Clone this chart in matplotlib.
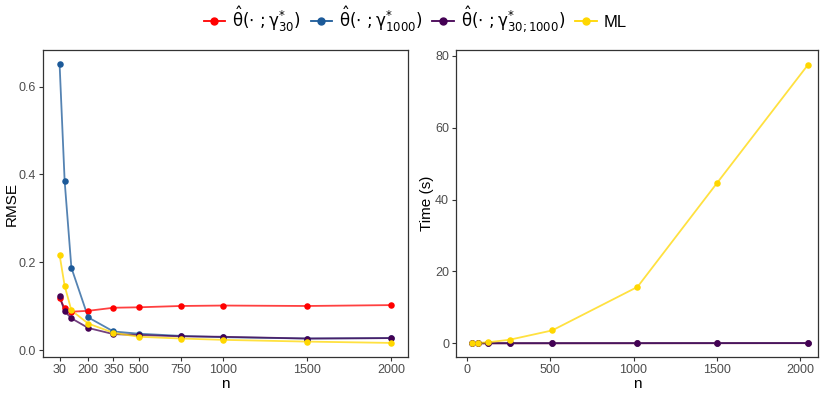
import numpy as np
import matplotlib
matplotlib.use('Agg')
import matplotlib.pyplot as plt
from matplotlib.lines import Line2D

# 数据
n_rmse = [30, 60, 100, 200, 350, 500, 750, 1000, 1500, 2000]
rmse_g30 = [0.119, 0.096, 0.088, 0.090, 0.097, 0.098, 0.101, 0.102, 0.101, 0.103]
rmse_g1000 = [0.651, 0.385, 0.188, 0.075, 0.043, 0.038, 0.033, 0.030, 0.027, 0.028]
rmse_g30_1000 = [0.123, 0.089, 0.073, 0.051, 0.037, 0.035, 0.032, 0.031, 0.027, 0.028]
rmse_ml = [0.217, 0.147, 0.091, 0.061, 0.040, 0.031, 0.027, 0.024, 0.020, 0.017]

n_time = [32, 64, 128, 256, 512, 1024, 1500, 2048]
time_g30 = [0.01, 0.01, 0.01, 0.02, 0.02, 0.03, 0.04, 0.05]
time_g1000 = [0.02, 0.02, 0.02, 0.03, 0.03, 0.04, 0.05, 0.06]
time_g30_1000 = [0.02, 0.02, 0.03, 0.03, 0.04, 0.05, 0.06, 0.07]
time_ml = [0.05, 0.1, 0.3, 1.0, 3.6, 15.7, 44.5, 77.5]

labels = [r'$\hat{\mathrm{\theta}}(\cdot\ ;\mathrm{\gamma}^{*}_{30})$',
          r'$\hat{\mathrm{\theta}}(\cdot\ ;\mathrm{\gamma}^{*}_{1000})$',
          r'$\hat{\mathrm{\theta}}(\cdot\ ;\mathrm{\gamma}^{*}_{30;1000})$',
          'ML']
colors = ['#FF0000', '#1C5A99', '#440154', '#FFD700']

rmse_series = [rmse_g30, rmse_g1000, rmse_g30_1000, rmse_ml]
time_series = [time_g30, time_g1000, time_g30_1000, time_ml]

plt.rcParams['font.family'] = ['Liberation Sans', 'DejaVu Sans']
plt.rcParams['mathtext.fontset'] = 'dejavusans'

fig = plt.figure(figsize=(8.3, 3.94), dpi=100)
ax1 = fig.add_axes([43 / 830, 1 - 357 / 394, (408 - 43) / 830, (357 - 50) / 394])
ax2 = fig.add_axes([456 / 830, 1 - 357 / 394, (818 - 456) / 830, (357 - 50) / 394])

# 画图
for ys, c in zip(rmse_series, colors):
    ax1.plot(n_rmse, ys, color=c, lw=1.3, alpha=0.75, zorder=2)
    ax1.scatter(n_rmse, ys, color=c, s=22, zorder=3, linewidths=0)
for ys, c in zip(time_series, colors):
    ax2.plot(n_time, ys, color=c, lw=1.3, alpha=0.75, zorder=2)
    ax2.scatter(n_time, ys, color=c, s=22, zorder=3, linewidths=0)

ax1.set_xlim(-68.5, 2098.5)
ax1.set_ylim(-0.015, 0.683)
ax1.set_xticks([30, 200, 350, 500, 750, 1000, 1500, 2000])
ax1.set_yticks([0.0, 0.2, 0.4, 0.6])
ax1.set_yticklabels(['0.0', '0.2', '0.4', '0.6'])
ax1.set_xlabel('n', fontsize=11, labelpad=1)
ax1.set_ylabel('RMSE', fontsize=11)
ax1.yaxis.set_label_coords(-0.066, 0.5)

ax2.set_xlim(-66, 2108)
ax2.set_ylim(-3.8, 81.6)
ax2.set_xticks([0, 500, 1000, 1500, 2000])
ax2.set_yticks([0, 20, 40, 60, 80])
ax2.set_xlabel('n', fontsize=11, labelpad=1)
ax2.set_ylabel('Time (s)', fontsize=11)
ax2.yaxis.set_label_coords(-0.061, 0.5)

for ax in (ax1, ax2):
    for sp in ax.spines.values():
        sp.set_color('#333333')
        sp.set_linewidth(0.9)
    ax.tick_params(colors='#333333', labelcolor='#4D4D4D', labelsize=9, length=3, width=0.8, pad=2)

# 图例
handles = [Line2D([0], [0], color=c, lw=1.3, marker='o', markersize=5) for c in colors]
fig.legend(handles, labels, loc='center', bbox_to_anchor=(0.5, 1 - 20 / 394), ncol=4,
           frameon=False, fontsize=12, handlelength=1.3, handletextpad=0.4, columnspacing=0.6)

fig.savefig('out.png', dpi=100)
